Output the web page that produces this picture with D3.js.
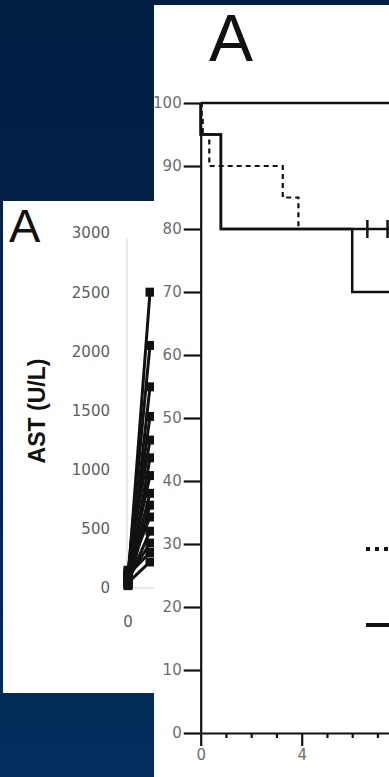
<!DOCTYPE html>
<html>
<meta charset="utf-8">
<script src="https://d3js.org/d3.v7.min.js"></script>
<style>
  body { margin: 0; background: #021f44; overflow: hidden; }
</style>
<body>
<div id="slide"></div>
<script>

// Kaplan-Meier panel data (time, percent)
var kmTicksY = [0, 10, 20, 30, 40, 50, 60, 70, 80, 90, 100];
var kmTicksX = [0, 1, 2, 3, 4, 5, 6, 7, 8];
var kmLabelsX = [0, 4];
var kmAll = [[0, 100], [8, 100]];
var kmSolidDrop = [[0, 100], [0, 95], [0.8, 80], [6, 70], [8, 70]];
var kmSolidStay = [[0, 100], [0, 95], [0.8, 80], [8, 80]];
var kmDashed = [[0, 100], [0.04, 97.5], [0.08, 95], [0.34, 90], [3.25, 85], [3.87, 80], [6, 80]];
var kmCensor = [6.6, 7.4];

// AST panel data (U/L) at day 0 and day 1
var astTicks = [0, 500, 1000, 1500, 2000, 2500, 3000];
var astDay0 = [60, 120, 40, 90, 150, 30, 100, 70, 20, 130, 50, 80, 110, 45];
var astDay1 = [2500, 2050, 1700, 1450, 1250, 1100, 950, 800, 700, 600, 480, 380, 300, 220];

var W = 389, H = 777;

var svg = d3.select("#slide").append("svg")
    .attr("width", W)
    .attr("height", H);

var defs = svg.append("defs");
var grad = defs.append("linearGradient")
    .attr("id", "bg").attr("x1", 0).attr("y1", 0).attr("x2", 0).attr("y2", 1);
grad.append("stop").attr("offset", "0%").attr("stop-color", "#021e43");
grad.append("stop").attr("offset", "100%").attr("stop-color", "#032d5d");

svg.append("rect").attr("width", W).attr("height", H).attr("fill", "url(#bg)");

// ---------- KM panel ----------
defs.append("clipPath").attr("id", "kmClip")
  .append("rect").attr("x", 154).attr("y", 5).attr("width", 240).attr("height", 780);

svg.append("rect").attr("x", 154).attr("y", 5).attr("width", 240).attr("height", 780).attr("fill", "#fff");

svg.append("text")
    .attr("x", 209).attr("y", 60.5)
    .style("font-family", "Liberation Sans, Arial, sans-serif")
    .style("font-size", "66px")
    .attr("fill", "#111")
    .text("A");

var km = svg.append("g").attr("clip-path", "url(#kmClip)");

var x = d3.scaleLinear().domain([0, 8]).range([200.7, 402.7]);
var y = d3.scaleLinear().domain([0, 100]).range([733, 103]);

var yAxis = km.append("g")
    .attr("transform", "translate(" + x(0) + ",0)")
    .call(d3.axisLeft(y).tickValues(kmTicksY).tickSize(17).tickSizeOuter(0).tickPadding(2));

var xAxis = km.append("g")
    .attr("transform", "translate(0," + y(0) + ")")
    .call(d3.axisBottom(x).tickValues(kmTicksX).tickSize(13).tickSizeOuter(0).tickPadding(3)
      .tickFormat(function(d) { return kmLabelsX.indexOf(d) >= 0 ? d : ""; }));

xAxis.selectAll(".tick line")
    .attr("y2", function(d) { return d % 4 === 0 ? 13 : 5; });

[yAxis, xAxis].forEach(function(a) {
  a.select(".domain").attr("stroke", "#111").attr("stroke-width", 2.2);
  a.selectAll(".tick line").attr("stroke", "#111").attr("stroke-width", 2.2);
  a.selectAll(".tick text")
    .attr("fill", "#6e6e6e")
    .style("font-family", "DejaVu Sans, sans-serif")
    .style("font-size", "15px");
});

var line = d3.line()
    .x(function(d) { return x(d[0]); })
    .y(function(d) { return y(d[1]); })
    .curve(d3.curveStepAfter);

km.append("path").datum(kmAll).attr("d", line)
    .attr("fill", "none").attr("stroke", "#111").attr("stroke-width", 2.5);
km.append("path").datum(kmSolidStay).attr("d", line)
    .attr("fill", "none").attr("stroke", "#111").attr("stroke-width", 2.5);
km.append("path").datum(kmSolidDrop).attr("d", line)
    .attr("fill", "none").attr("stroke", "#111").attr("stroke-width", 2.5);
km.append("path").datum(kmDashed).attr("d", line)
    .attr("fill", "none").attr("stroke", "#111").attr("stroke-width", 2.2)
    .attr("stroke-dasharray", "5,4");

km.selectAll(".censor").data(kmCensor).enter().append("line")
    .attr("x1", function(d) { return x(d); })
    .attr("x2", function(d) { return x(d); })
    .attr("y1", y(80) - 9)
    .attr("y2", y(80) + 9)
    .attr("stroke", "#111").attr("stroke-width", 2.5);

// legend samples (text is off the picture)
km.append("line")
    .attr("x1", 366).attr("x2", 392).attr("y1", 549).attr("y2", 549)
    .attr("stroke", "#111").attr("stroke-width", 4).attr("stroke-dasharray", "4,5");
km.append("line")
    .attr("x1", 366).attr("x2", 392).attr("y1", 625).attr("y2", 625)
    .attr("stroke", "#111").attr("stroke-width", 4);

// ---------- AST panel ----------
defs.append("clipPath").attr("id", "astClip")
  .append("rect").attr("x", 3).attr("y", 201).attr("width", 151).attr("height", 492);

var ast = svg.append("g").attr("clip-path", "url(#astClip)");
ast.append("rect").attr("x", 3).attr("y", 201).attr("width", 151).attr("height", 492).attr("fill", "#fff");

ast.append("text")
    .attr("x", 9).attr("y", 242)
    .style("font-family", "Liberation Sans, Arial, sans-serif")
    .style("font-size", "47px")
    .attr("fill", "#111")
    .text("A");

var ax = d3.scaleLinear().domain([0, 1]).range([128, 150]);
var ay = d3.scaleLinear().domain([0, 3000]).range([588, 233]);

// faint axis lines
ast.append("line").attr("x1", 127).attr("x2", 127).attr("y1", 238).attr("y2", 588)
    .attr("stroke", "#dcdcdc").attr("stroke-width", 1.2);
ast.append("line").attr("x1", 127).attr("x2", 156).attr("y1", 588).attr("y2", 588)
    .attr("stroke", "#dcdcdc").attr("stroke-width", 1.2);

ast.selectAll(".ytick").data(astTicks).enter().append("text")
    .attr("x", 110)
    .attr("y", function(d) { return ay(d); })
    .attr("dy", "0.36em")
    .attr("text-anchor", "end")
    .attr("fill", "#5e5e5e")
    .style("font-family", "DejaVu Sans, sans-serif")
    .style("font-size", "15px")
    .text(function(d) { return d; });

ast.append("text")
    .attr("x", ax(0)).attr("y", 622).attr("dy", "0.36em")
    .attr("text-anchor", "middle")
    .attr("fill", "#5e5e5e")
    .style("font-family", "DejaVu Sans, sans-serif")
    .style("font-size", "15px")
    .text("0");

ast.append("text")
    .attr("transform", "translate(45,411) rotate(-90)")
    .attr("text-anchor", "middle")
    .attr("fill", "#111")
    .style("font-family", "Liberation Sans, Arial, sans-serif")
    .style("font-size", "23px")
    .style("font-weight", "bold")
    .text("AST (U/L)");

var patients = astDay0.map(function(v, i) { return [[0, v], [1, astDay1[i]]]; });

var aline = d3.line()
    .x(function(d) { return ax(d[0]); })
    .y(function(d) { return ay(d[1]); });

ast.selectAll(".pt").data(patients).enter().append("path")
    .attr("d", aline)
    .attr("fill", "none").attr("stroke", "#111").attr("stroke-width", 3);

var pts = [];
patients.forEach(function(p) { p.forEach(function(d) { pts.push(d); }); });

ast.selectAll(".mk").data(pts).enter().append("path")
    .attr("d", d3.symbol().type(d3.symbolSquare).size(81))
    .attr("transform", function(d) { return "translate(" + ax(d[0]) + "," + ay(d[1]) + ")"; })
    .attr("fill", "#111");

</script>
</body>
</html>
